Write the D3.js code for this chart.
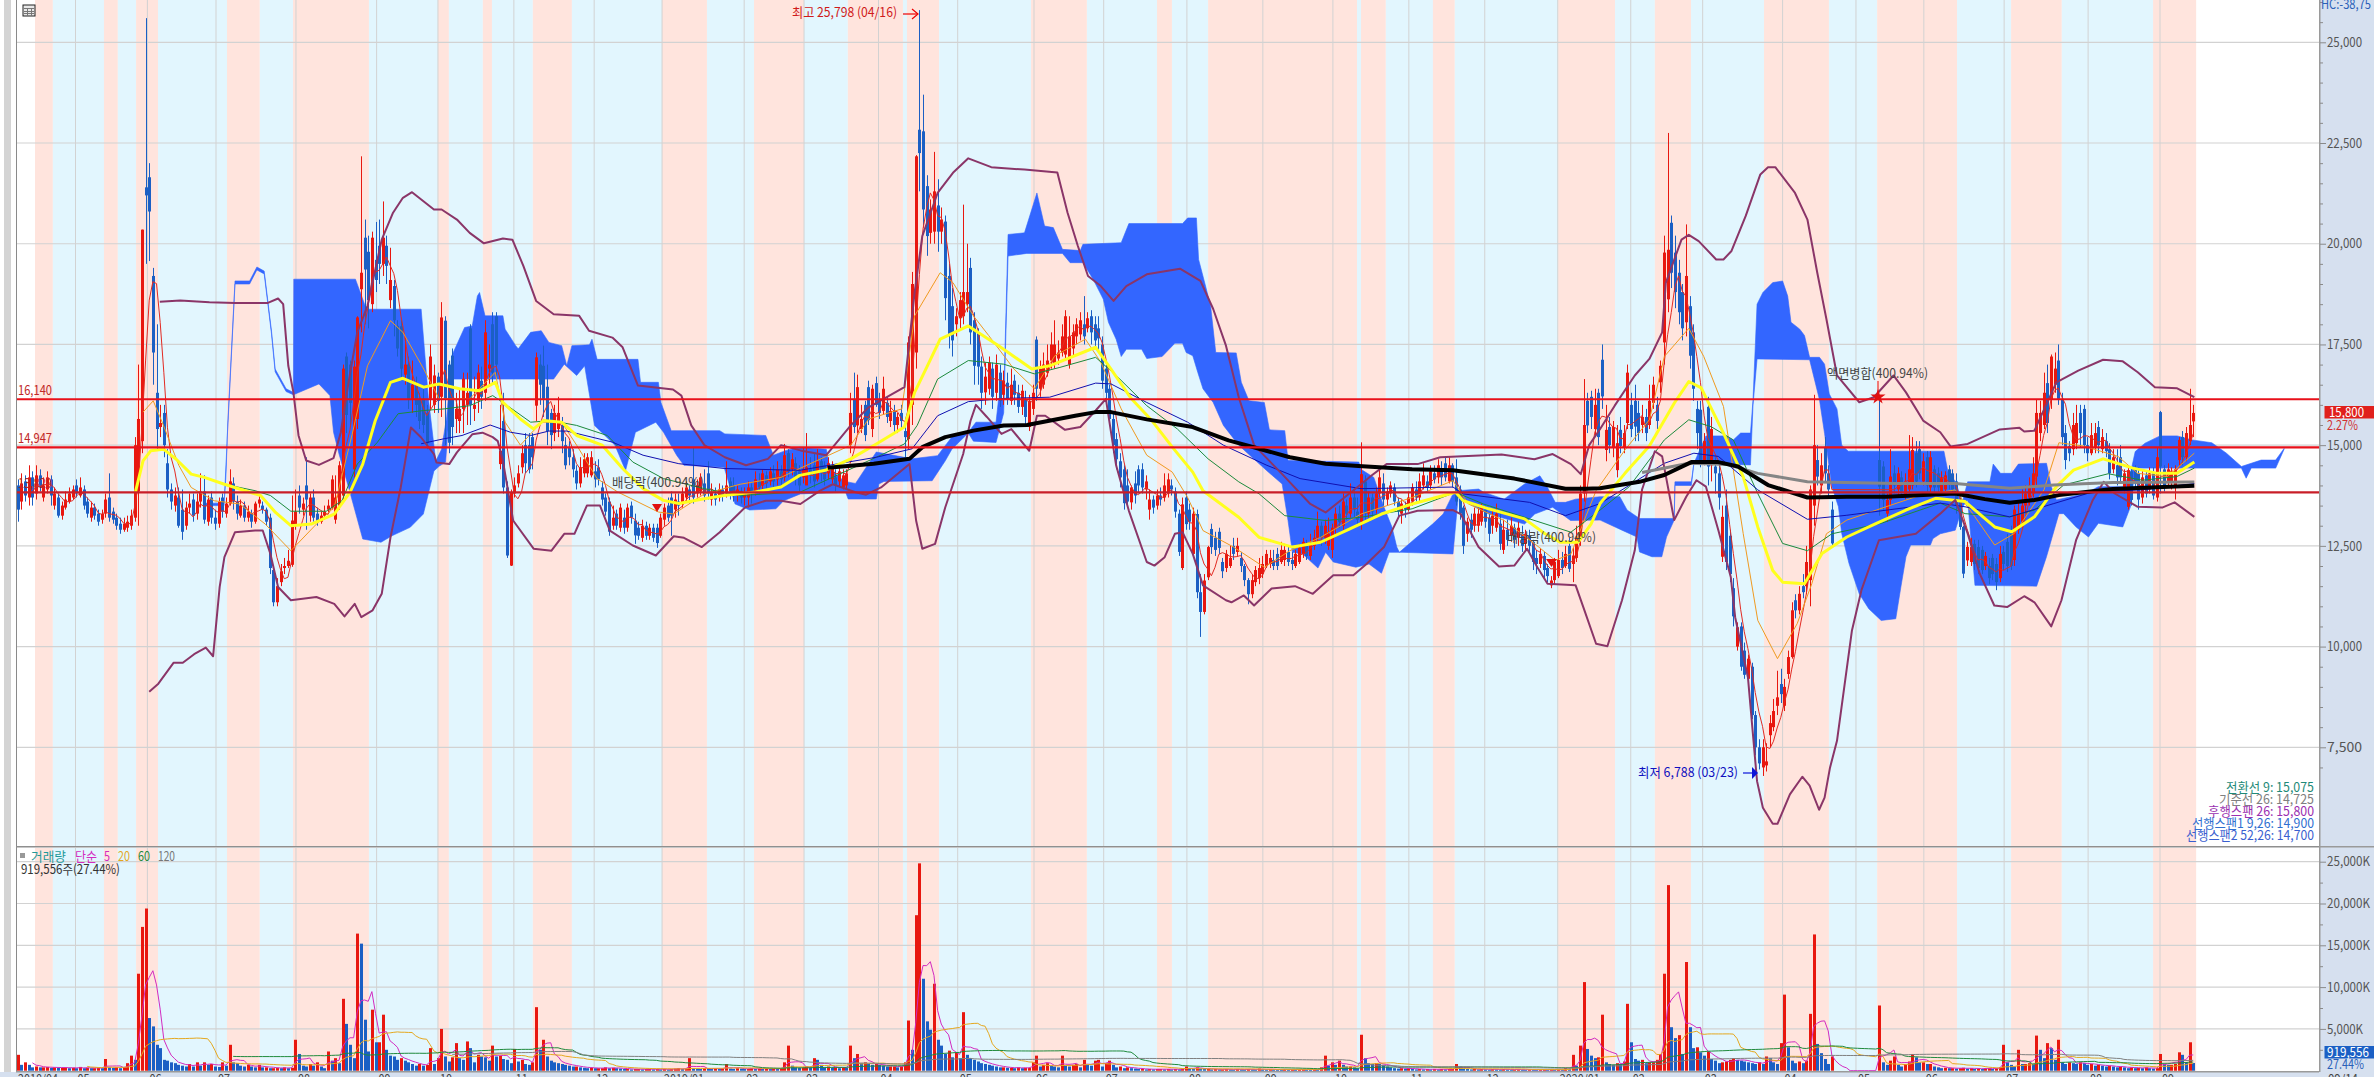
<!DOCTYPE html>
<html><head><meta charset="utf-8">
<style>html,body{margin:0;padding:0;background:#fff;overflow:hidden}svg{display:block}</style>
<script src="https://cdn.jsdelivr.net/npm/d3@7/dist/d3.min.js"></script></head><body><svg id="c" width="2374" height="1077"></svg>
<script>
// Alternating market-phase bands, as trading-day index edges (pink, blue, pink, ...)
const bandEdges=[5.2,10.1,24.1,27.9,32.9,38.9,57.8,66.8,75.9,96.7,115.6,118.6,127.9,130.4,141.6,152.3,177,189.3,202.2,215.9,227.9,243,244.1,252.9,278.1,293.4,312.6,316.7,326.6,367.4,368.5,375.3,388.2,394.2,422.5,438.1,449,458.9,478.9,496.7,509.9,531.8,546.6,560.5,585.5,597.3];
const monthIdx=[16.3,36,54.8,76.7,98.8,115.6,136.4,158.4,177,199.5,215.9,236.3,258,278.9,298,320.8,341.6,360.8,381.6,402.4,422.4,442.4,462.1,484,504.1,522.7,544.7,567.7,587.4];
const monthLabels=["05","06","07","08","09","10","11","12","2019/01","02","03","04","05","06","07","08","09","10","11","12","2020/01","02","03","04","05","06","07","08","09"];
const priceTicks=[25000,22500,20000,17500,15000,12500,10000,7500];
const volumeTicks=[25000,20000,15000,10000,5000];
const hLevels=[16140,14947,13829];

const opens=[
14000,13600,14100,13700,14200,13800,14250,13700,13900,14150,
13500,13700,13250,13450,13600,13700,14000,13750,13900,13600,
13200,13450,13300,13150,13300,13700,13350,13200,13050,12900,
12950,13000,13200,13850,15100,21400,21650,19200,16300,15450,
15800,14550,13900,13500,13700,13400,13000,13450,13650,13300,
13600,13850,13100,13700,13200,13050,13700,13300,13550,14050,
13600,13250,13500,13200,13300,13100,13550,13500,13400,13200,
11900,11100,11600,11950,12000,12030,13000,13750,13400,14000,
13250,13700,13300,13100,13250,13400,13450,13150,13500,13750,
17200,17000,14400,15650,18870,20150,19800,18500,19600,19950,
19500,19950,18600,18950,17960,17950,16750,17000,16150,16500,
16150,16150,15800,16150,16000,16700,16200,18090,17000,17220,
15650,15600,15900,16000,17900,15900,16100,16600,16300,16900,
18000,18200,14530,15600,13950,12010,13800,14050,14450,15000,
15000,15200,15980,17000,16970,16450,15800,15300,15400,15500,
15000,14950,14700,14365,14050,14300,14300,14250,14350,14450,
13950,13700,13600,13000,13300,12950,13200,12950,13500,13130,
12950,12700,13000,12750,12950,12950,12750,13150,13500,13700,
13400,13600,13550,13700,13900,14150,13800,13850,14050,14300,
13650,13800,13700,13900,13800,14100,14000,13750,13850,13700,
13700,13950,13850,14100,14000,14250,14100,14300,14150,14350,
14200,14800,14400,14550,14350,14200,14000,14400,14500,14150,
14600,14500,14300,14150,14200,14100,13950,14000,15000,16150,
15490,15400,16000,16440,15400,16540,16150,15850,16050,15600,
15850,15500,15800,15350,15150,16000,17300,22830,22790,21430,
20270,20300,20950,20300,20550,19200,18450,18000,18150,18200,
18500,19400,18100,17800,16950,16310,16400,16900,16300,16800,
16250,16550,16100,16600,16300,15950,16150,15450,15900,17620,
16400,16500,16800,17100,17000,17150,17300,17250,17000,17400,
17700,17750,18000,17900,18200,18000,17900,17500,16900,16400,
15650,15150,14600,14400,14000,13580,14050,14400,14400,13900,
13400,13650,13500,13750,13700,13800,14000,13850,13300,11950,
13700,13400,12300,13290,11350,10860,11720,12920,12700,12850,
12100,11950,12000,12500,12350,12200,12000,11650,11300,11600,
11700,11800,12000,12050,12150,12300,12100,12150,12350,12150,
12000,12100,12300,12500,12250,12500,12700,13000,12700,12500,
12400,12950,13300,13000,13500,13300,13700,13350,13100,14100,
13300,13700,13400,13800,14050,13650,13800,13950,13600,13300,
13500,13400,13600,13900,13700,14000,14100,14000,14300,14200,
14400,14550,14100,14500,14200,13900,13450,12800,13150,13000,
13000,13100,13400,13200,13000,12950,13050,12400,12900,12750,
12950,12700,12800,12550,12750,12600,12200,12050,12250,11950,
11520,11650,11750,12150,12000,12500,12050,12200,12650,13800,
16100,16200,15400,16300,17120,14880,15450,14950,14380,15380,
14950,15550,16000,16100,15800,15500,15700,15500,16050,16000,
16560,17550,18620,20520,19780,19280,18800,18050,18450,17800,
15900,15880,14600,15950,14500,14470,14300,12230,13500,12750,
11450,10000,10500,9900,9200,9500,8300,7500,7000,7050,
7800,8000,8530,9070,8530,9320,9740,11150,10900,11500,
11500,11650,13500,14630,14000,14960,14300,13400,null,null,
null,null,null,null,null,null,null,null,null,null,
14630,14470,13300,13640,14300,13900,14200,13760,13900,14000,
14800,14900,14100,14700,13950,14400,14300,13850,13900,14400,
14300,14100,13640,12970,12140,12100,12550,12470,12400,12000,
12000,12200,12050,11700,12350,12600,12800,12150,12900,13100,
13500,13700,13800,14220,15300,15500,16540,16130,16500,17100,
16150,15300,14980,14900,15050,15800,15900,15000,14800,14950,
15450,14900,15100,14900,14400,14500,14700,13900,13470,14350,
14400,14300,13700,14250,13900,14300,13700,15820,14400,14100,
14100,14000,14630,15200,14700,15100,15590];
const closes=[
13400,14050,13750,14200,13700,14250,13950,14000,14200,13750,
13800,13250,13500,13650,13800,13900,13800,13950,13500,13300,
13450,13250,13100,13300,13650,13200,13150,13000,12900,13050,
13100,13250,15000,15650,20350,21200,20800,17300,15400,15550,
15000,13900,13600,13750,13000,12850,13450,13550,13250,13600,
13850,13150,13650,13200,13050,13600,13350,13550,14100,13600,
13300,13500,13200,13350,13100,13550,13650,13400,13100,11950,
11100,11500,11870,12000,12130,13130,13350,13450,13550,13650,
13700,13200,13100,13250,13350,13500,14150,13700,14500,16900,
15750,16050,16950,18170,19280,19360,18600,20150,19100,19500,
20150,19450,19100,18100,17400,16900,17000,16150,16500,16000,
15600,15500,15050,17200,16730,16100,18170,16150,15060,15450,
15900,15900,16650,16300,16000,16000,16800,16200,17800,17000,
16800,17000,14860,13950,12260,13830,14000,14300,14800,14550,
14400,14700,17180,16500,16150,15350,15250,15800,15800,15100,
14500,14700,14400,14050,14450,14650,14700,14700,14150,14150,
13650,13350,12850,13200,13000,13450,12950,13450,13200,12760,
12750,13000,12750,12950,12700,12570,13200,13450,13200,13250,
13650,13500,13800,13950,13750,13700,14000,14200,13750,13800,
13850,13650,13900,13750,14000,13850,13800,13900,13700,13800,
13950,13800,14150,13950,14300,14050,14350,14100,14400,14150,
14750,14350,14650,14200,14000,14400,14450,14250,14100,14600,
14300,14150,14550,14450,14000,14350,14250,14300,15800,15450,
16440,15650,15250,15620,16400,16000,15800,16400,15700,15850,
15500,15700,15600,15200,17550,19000,22170,22250,20850,20190,
20850,21300,20300,20600,18650,17750,17600,18200,18600,18800,
18800,17800,16970,16950,16300,16700,17050,16200,17000,16100,
16600,16150,16500,16250,15950,16350,15700,16100,16300,16400,
16900,17000,17100,17500,17500,17300,17700,18200,17700,17800,
18000,18100,17700,18150,17800,17600,17650,16600,16300,15650,
15000,14650,14200,13560,13600,13950,13750,14000,13950,14100,
13650,13450,13750,13650,14000,14150,13900,13350,12350,13530,
13040,13100,13300,11350,10860,11640,12470,12470,12400,12450,
11870,12300,12200,12300,12500,12000,11650,11300,11650,11900,
11950,12050,12300,12200,12000,12000,12400,12400,12100,12050,
12300,12450,12600,12250,12550,12700,13000,12700,13000,12800,
12950,13300,13100,13600,13300,13700,13400,13150,14280,13300,
13700,13350,13800,14200,13650,13850,14000,13600,13350,13550,
13400,13700,13950,13700,14100,14250,13950,14350,14150,14500,
14200,14200,14500,14100,13600,13300,12500,13100,12900,13300,
13300,13450,13100,12800,13250,13300,12550,12900,12650,13000,
12650,12950,12500,12800,12500,12100,12050,12300,11900,11750,
11640,12100,12150,11950,12300,11930,12260,12700,13800,15500,
15490,15700,16000,15200,16210,15380,15000,15450,15050,14980,
15300,16800,15400,15460,15300,15700,15300,16100,16500,15600,
16970,19780,19850,19280,18800,18300,17900,19200,17220,16400,
15300,14630,15100,14470,15400,14300,13700,13220,12100,11800,
10750,10480,9500,9300,9700,8300,7500,7100,7500,7150,
8100,8400,8740,8820,9000,9740,10900,10900,11310,11350,
12100,13900,15000,14220,14500,14300,13900,12560,null,null,
null,null,null,null,null,null,null,null,null,null,
13970,13640,13640,14220,14000,14300,13850,14100,14400,14880,
14100,14300,14600,14000,14700,13950,13950,14200,14250,14050,
13900,13500,12970,11810,12475,12470,12050,11950,11900,12250,
11700,11800,11600,12300,12050,12000,12000,13400,13300,13500,
13800,14000,14300,15800,15800,16300,15550,17200,16900,16150,
15200,14630,14800,15500,15550,15300,15000,14800,15250,15300,
15000,15200,14850,14300,14700,14200,14200,14300,14380,13640,
14050,13650,14200,13800,14300,13750,14700,14470,14000,14400,
14300,14400,15130,14700,15300,15500,15800];
const highs=[
14150,14300,14250,14500,14350,14500,14400,14200,14350,14250,
13950,13800,13600,13850,13950,14000,14150,14200,14000,13700,
13600,13550,13400,13400,13800,14300,13450,13300,13200,13200,
13250,13400,15200,17000,20350,25600,22000,19400,18000,16000,
16000,14900,14050,13950,13950,13900,13600,13800,13800,13800,
14300,14250,13750,13850,13400,13700,13800,13700,14400,14200,
13750,13650,13600,13500,13400,13600,13750,13600,13450,13300,
12000,11700,12050,12200,12400,13750,13900,14000,13700,14700,
13800,13900,13450,13350,13500,13650,14250,14250,14600,17000,
17300,17100,17100,18200,22170,20600,20200,20300,20540,20600,
21050,20200,19900,19100,18100,18100,17700,17200,17100,16700,
16300,16400,16000,17500,17000,16800,18550,18200,17100,17400,
16300,16400,16800,16800,18000,16700,17000,16950,18100,17500,
18300,18300,16000,16300,14100,13900,14200,14500,15000,15300,
15300,15300,17300,17250,17470,17000,15900,16000,16200,15700,
15200,15100,14900,14500,14700,14800,14800,14850,14600,14650,
14100,13800,13700,13500,13400,13550,13400,13550,13600,13300,
13100,13150,13100,13050,13050,13050,13300,13550,13700,13850,
13800,13800,13950,14100,14000,14950,14150,14300,14400,14600,
14050,13950,14050,14000,14600,14200,14200,14000,13950,13950,
14100,14050,14350,14300,14400,14350,14450,14500,14600,14500,
15030,14900,14800,14700,14500,14950,15300,14700,14800,14900,
14700,14600,14700,14600,14400,14450,14400,14400,16300,16800,
16750,16000,16100,16600,16500,16700,16300,16700,16200,16100,
16000,15800,16000,15650,17700,19300,22200,25798,23700,21700,
21100,22280,21600,20900,20700,19500,18900,18400,18800,20970,
20000,19650,18300,17900,17200,17050,17200,17050,17250,17000,
16850,16800,16900,16750,16500,16500,16350,16250,16500,17700,
17100,17300,17500,17800,18100,17600,18000,18350,18200,18000,
18150,18300,18700,18300,18350,18200,18200,17700,17000,16500,
15800,15300,14800,14500,14400,14000,14350,14500,14550,14250,
13900,13750,13900,13950,14300,14300,14150,13950,13400,13700,
13850,13550,13450,13400,11800,11800,12500,13050,12850,12950,
12200,12400,12500,12700,12700,12350,12050,11700,11800,12000,
12200,12250,12400,12400,12400,12450,12600,12550,12500,12350,
12400,12550,12700,12650,12800,12900,13350,13100,13150,13200,
13050,13450,13500,13800,13650,14050,13900,13700,15070,14250,
13850,13800,13950,14450,14300,13950,14100,14050,13700,13650,
13600,13850,14050,14100,14300,14550,14250,14500,14500,14650,
14600,14700,14700,14550,14650,14000,13500,13200,13300,13450,
13450,13550,13500,13300,13400,13550,13300,13150,13150,13200,
13050,13100,13000,12900,12900,12650,12400,12450,12350,12050,
11750,12200,12400,12350,12500,12700,12450,13000,14000,16640,
16300,16350,16400,16400,17500,16000,15700,15600,15500,15700,
15500,17000,16300,16500,16100,16000,15900,16500,16700,16200,
17100,20200,22750,20700,20200,19600,19000,20480,18700,18000,
16100,16100,15300,16200,15700,14700,14500,13500,13900,12900,
11700,10600,10600,10100,9800,9600,8400,7700,7700,7600,
8300,8700,9400,9450,9200,9900,11100,11300,11500,11800,
12500,14000,16250,15000,14800,15200,14500,13600,null,null,
null,null,null,null,null,null,null,null,null,null,
16100,14600,13800,14900,14500,14450,14350,14300,15250,15200,
15100,15100,14800,14850,14850,14500,14450,14350,14350,14500,
14400,14300,13800,13000,12600,12700,12650,12650,12500,12350,
12200,12300,12200,12500,12500,12800,13000,13500,13600,13900,
14000,14200,14700,16130,16100,16800,17000,17250,17300,17500,
16300,15500,15100,15800,16000,16000,16000,15200,15550,15550,
15600,15400,15300,15050,14900,14900,15000,14400,14500,14450,
14500,14450,14400,14350,14450,14450,14950,15850,14500,14550,
14450,14500,15200,15350,15450,16400,16000];
const lows=[
13100,13400,13600,13500,13500,13650,13850,13600,13800,13500,
13400,13200,13150,13400,13550,13650,13700,13700,13400,13200,
13100,13150,13000,13050,13200,13100,13050,12900,12800,12850,
12850,12900,13100,13000,14800,19500,19570,16500,14900,15200,
14700,13700,13400,13350,12950,12650,12900,13300,13100,13150,
13450,13050,13000,13050,12900,12950,13200,13200,13500,13400,
13150,13200,13100,13100,12950,13050,13450,13300,13000,11800,
11000,11000,11500,11800,11950,11980,12900,13300,13250,12900,
13100,13100,13000,13050,13150,13300,13400,13050,13400,13600,
15300,15500,14200,15400,17800,18000,17900,18300,18800,19000,
19200,19000,18400,17700,17200,16600,16500,15900,15800,15700,
15400,15300,14900,15900,15800,15800,15700,15000,14800,15000,
15300,15300,15300,15500,15500,15600,15800,15900,16100,16500,
16500,16700,14400,13800,12200,12000,13700,13950,14300,14300,
14300,14400,15600,16000,15700,15000,14900,15100,15200,14800,
14400,14500,14200,13900,13950,14200,14200,14200,13950,14000,
13500,13250,12750,12900,12900,12850,12800,12850,13050,12550,
12650,12600,12650,12650,12600,12450,12700,13000,13100,12750,
13200,13250,13450,13600,13550,13550,13700,13750,13600,13650,
13500,13500,13600,13600,13700,13650,13600,13600,13550,13500,
13450,13550,13750,13800,13850,13900,14000,13950,14000,14000,
14100,14200,14250,14000,13850,14050,14200,14050,13950,14100,
14100,14000,14150,14050,13850,13950,13900,13900,14800,15300,
15300,15300,15100,15500,15200,15950,15650,15750,15550,15450,
15300,15300,15400,14700,14900,15500,16900,21300,20400,19700,
20000,20000,19800,20000,18100,17400,17200,17700,17900,18000,
18300,17500,16500,16500,15900,16000,16250,15900,16100,15950,
16000,16000,16000,16000,15800,15750,15500,15350,15750,16100,
16200,16400,16700,16900,16900,17000,17200,17100,16900,17200,
17500,17600,17500,17800,17500,17400,17300,16400,16050,15500,
14800,14400,13950,13400,13450,13400,13550,13800,13800,13650,
13150,13300,13400,13500,13600,13700,13750,13200,12250,11900,
12900,12900,12200,11200,10240,10800,11650,12300,12250,12300,
11700,11850,11950,12150,12250,11850,11500,11050,11200,11500,
11550,11700,11950,11950,11900,11900,12050,12000,12000,11900,
11950,12050,12200,12150,12150,12400,12600,12500,12550,12400,
12200,12800,12950,12900,13150,13200,13200,13000,12900,13150,
13200,13200,13300,13700,13500,13500,13700,13500,13200,13050,
13200,13350,13500,13600,13600,13900,13850,13900,14050,14050,
14000,14100,14050,13950,13500,13150,12300,12600,12700,12850,
12850,13000,12950,12600,12800,12850,12400,12300,12500,12600,
12450,12500,12350,12350,12300,11900,11800,11950,11700,11600,
11450,11550,11700,11800,11950,11850,11600,12100,12500,13600,
15300,15400,15200,15000,15900,14600,14800,14700,14200,14800,
14800,15400,15200,15100,15100,15300,15100,15400,15900,15400,
16300,17000,18300,18900,18400,18000,17600,17700,16900,16100,
14900,14450,14500,14000,14100,13800,13400,12100,11900,11600,
10500,9900,9400,9200,9100,8200,7300,6950,6788,6900,
7500,7900,8300,8600,8400,9200,9700,10700,10800,11200,
11300,11000,13000,14000,13800,14100,13700,12500,null,null,
null,null,null,null,null,null,null,null,null,null,
13250,13400,13100,13500,13800,13750,13700,13650,13800,13900,
13950,14150,14000,13850,13800,13750,13800,13750,13750,13900,
13800,13300,12900,11700,12000,12000,11900,11800,11800,11900,
11550,11650,11400,11600,11900,11850,11900,12000,12800,12950,
13300,13500,13700,14000,15100,15400,15300,15900,16300,16000,
15000,14400,14600,14750,14900,14950,14800,14600,14750,14800,
14800,14800,14700,14150,14300,14000,14050,13800,13400,13500,
13950,13400,13550,13700,13800,13650,13600,13800,13850,14000,
13900,13650,14500,14500,14600,15000,15200];
const volumes=[
1900,700,1000,700,400,500,400,400,450,350,
400,350,350,400,300,350,300,450,300,350,
300,300,350,300,1400,400,350,400,300,450,
900,1800,1300,11600,17200,19400,6300,5300,3100,2700,
1300,1200,1000,900,700,600,500,800,500,1000,
600,1000,700,800,500,450,1000,600,3100,1000,
900,600,500,700,500,400,700,400,400,300,
300,350,300,400,300,350,3700,2000,600,500,
800,600,1000,500,300,2300,1200,1500,900,8600,
5600,3100,1500,16400,15200,6100,2300,7300,3400,3400,
6700,2500,1800,1700,1300,1500,1200,1000,800,600,
800,600,700,2700,800,1500,5000,1700,1100,1600,
3300,1500,1300,3500,2700,1000,1900,1700,1600,1200,
3000,1700,1800,1400,1300,900,2600,1100,1300,800,
700,1000,7600,2500,3700,1700,1200,1000,900,800,
700,600,500,500,400,350,300,350,300,300,
300,400,300,350,300,250,200,200,150,200,
200,150,200,200,150,200,150,200,150,200,
250,300,200,250,1500,300,250,200,300,250,
200,300,200,250,800,250,200,300,250,200,
200,300,200,250,200,300,200,250,200,300,
1000,3000,600,400,350,400,500,400,1500,1300,
700,400,500,350,400,300,400,350,3000,1500,
2000,900,1000,800,700,800,700,600,500,500,
500,400,500,1000,6000,2500,18600,24800,11000,5900,
4900,10400,3700,3000,2000,2400,1600,2200,1500,7000,
1900,1500,1300,1100,900,800,700,600,500,400,
400,350,350,300,400,300,350,350,1000,1800,
500,700,900,600,500,400,1800,600,500,700,
800,400,1300,700,600,1200,1300,500,900,1200,
700,400,500,300,400,300,250,200,200,150,
200,150,200,200,150,200,150,200,150,250,
500,300,200,400,250,200,200,150,200,150,
150,200,150,120,200,150,120,200,150,120,
250,150,120,200,150,120,100,200,120,150,
120,150,200,120,100,150,120,400,1800,600,
1000,700,1200,700,500,500,400,300,4300,1500,
900,800,900,800,700,500,400,300,250,300,
250,300,200,150,200,150,200,150,200,150,
200,150,200,200,800,500,250,200,150,200,
150,200,150,120,200,150,120,200,150,120,
120,150,120,100,150,120,100,120,150,100,
120,100,150,120,300,200,1900,600,3000,10600,
2600,1800,1500,1600,6700,1000,800,700,900,800,
1100,8000,3400,1400,1200,1300,900,1000,1000,1300,
2000,11600,22200,5200,3900,4250,2000,13000,5200,2700,
2800,2200,1800,2300,1400,1200,900,1000,1100,1300,
1500,1300,1200,1100,1000,900,800,1000,800,1700,
1500,1000,800,3300,9100,2800,1200,900,1100,900,
1200,6800,16300,3200,2100,1400,800,1700,0,0,
0,0,0,0,0,0,0,0,0,0,
7800,1000,700,1200,1700,700,500,800,1100,2000,
1600,1000,1000,800,800,500,400,300,350,300,
300,250,300,350,250,300,200,250,200,300,
300,200,300,400,3100,1000,700,500,2500,800,
800,900,800,4200,2500,1500,3300,2700,1300,3700,
1000,800,1000,900,800,1000,900,700,800,600,
700,600,500,600,500,400,500,400,300,400,
300,350,300,400,300,250,300,2000,800,700,
700,800,2200,1900,1000,3400,920];

const bbUpper=[[39.4,18557],[45,18590],[53,18550],[60,18530],[69,18530],[71.8,18640],[73.2,18500],[74.6,16970],[76,16310],[77.4,15240],[79.5,14620],[83,14510],[87,14680],[89,15320],[91,16500],[93.5,17800],[96.3,18460],[100.2,20100],[103.3,20770],[106,21140],[108.5,21280],[114.5,20850],[116.6,20850],[120.8,20600],[124.3,20270],[128.2,20010],[133.4,20130],[136,20100],[139,19450],[142.5,18580],[147.3,18250],[154.3,18210],[157,17840],[163.4,17670],[166.2,17430],[170.4,16480],[180,16380],[182.3,16230],[185,15490],[188.6,15000],[194.2,14700],[200,14500],[206,14660],[209.6,15000],[214.9,14870],[222,14750],[228.7,15490],[233.6,15940],[243.4,16440],[246.2,18790],[248.3,20190],[252.5,21260],[256.7,21760],[260.9,22120],[267.2,21900],[276.3,21840],[285.3,21770],[288.1,20770],[290.9,19950],[293.7,19200],[297.2,18950],[300.7,18580],[304.2,18950],[309.8,19240],[318.9,19380],[324.5,19080],[328,18380],[331.5,17470],[335,16190],[339.2,15000],[346.9,14280],[354.6,13540],[358.8,13330],[368.5,14030],[371.3,14240],[375.5,14530],[384,14530],[390.2,14700],[407,14770],[416,14650],[421,14780],[426,14530],[428.7,14280],[431,15000],[434,15400],[438,15980],[443.5,16730],[447.5,17140],[451,17800],[452,19030],[456.3,20100],[458.3,20220],[461,20065],[465.8,19610],[467.8,19610],[470,19820],[473.9,20690],[477.9,21720],[480,21900],[482,21900],[487.4,21260],[490.8,20600],[493.5,19280],[496,18130],[498.9,16730],[505,16065],[509,16190],[514.4,16730],[517.8,16310],[522.5,15610],[527.2,15320],[530,14970],[534.7,15030],[543.5,15390],[548.9,15430],[550.2,15340],[553,15360],[559,16560],[565,16850],[571.8,17120],[577.2,17080],[581.3,16810],[586,16440],[592.1,16410],[596.8,16190]];
const bbLower=[[36.5,8880],[39,9080],[43.2,9600],[45.7,9600],[48.8,9810],[52,9975],[54,9760],[55.8,11480],[57.1,12220],[60,12840],[65.5,12880],[67.6,12880],[69.7,12300],[71.8,11480],[75.3,11150],[82.3,11230],[87.2,11060],[90,10750],[92.8,11060],[94.6,10730],[97.7,10900],[100.2,11310],[102.6,12710],[105.4,13950],[108.2,15440],[111,15190],[114.5,14780],[115.2,14570],[118.7,14530],[120.8,14820],[125,15270],[127.8,15310],[130.6,15200],[132,15100],[133.4,14610],[136.2,13130],[141.8,12430],[146.7,12380],[150.2,12800],[153,12800],[156.4,13500],[160,13500],[162.7,12880],[169,12510],[175.3,12260],[180.2,12740],[183,12700],[187.9,12470],[192.8,12840],[199.8,13460],[205.4,13620],[209.6,13620],[214.9,13540],[220.3,13870],[223.8,14030],[230,13830],[232.9,13770],[237,13950],[244.8,14530],[246.6,13130],[248.3,12430],[251.8,12550],[254.6,13460],[259.5,14780],[261.5,15600],[263,16000],[266,15700],[270,15280],[272.7,15400],[277.6,14860],[279.7,15730],[282,15730],[287.4,15380],[291.6,15450],[295.8,15860],[298.6,16150],[301.4,14500],[304.9,13370],[309.8,12100],[311.9,12010],[314.7,12220],[317.5,12800],[319.6,12840],[322.4,12300],[325.2,11520],[331.5,11150],[333,11100],[336.4,11270],[339.2,11020],[344,11440],[350.4,11500],[355.3,11310],[360.9,11770],[366.4,11770],[370,12050],[374.8,12470],[377,12880],[379,13250],[384,13370],[393.7,13390],[395.8,13290],[400.7,12470],[406.3,11990],[410.5,12010],[414,12430],[416.8,11970],[419.6,11560],[427.3,11520],[429.4,10980],[432.9,10070],[436,10010],[440,11150],[443.5,12390],[445.5,13900],[449,14850],[451,14720],[454.3,13140],[457.6,13720],[460.4,14130],[463,13970],[466.4,12890],[469.8,11730],[471,10730],[474.5,9240],[477,6660],[478.6,6000],[481.3,5600],[482.6,5600],[486,6330],[489.4,6770],[491.4,6550],[494,5950],[495.5,6250],[497,7000],[498.9,7660],[503,10400],[505.6,11400],[510.4,12640],[520.5,12800],[527.2,13300],[531.3,13640],[534.7,12810],[538,11810],[542,11020],[545.5,10980],[550.2,11250],[553,11100],[557.6,10500],[560.4,11150],[564.4,12640],[569,13640],[572,14090],[575,13800],[581.3,13470],[588,13450],[591.4,13580],[596.8,13220]];
const ma20=[[32.7,13830],[34.8,14610],[36.9,14860],[40.4,14900],[43.9,14650],[48,14280],[51.6,14200],[57.1,14030],[67,13750],[71.1,13330],[75.3,13000],[80.9,13040],[87.2,13290],[91.5,13830],[95,14530],[98.4,15600],[102.6,16560],[106,16660],[111.7,16440],[115.9,16520],[121.5,16400],[127,16350],[131.3,16560],[133.4,16060],[138.2,15650],[141.8,15400],[144.5,15610],[149.5,15570],[153.6,15240],[160.6,15000],[166.2,14420],[171.8,13920],[177.4,13630],[181.6,13550],[188.6,13670],[194,13750],[202.6,13840],[209.6,13960],[214.7,14250],[221.7,14375],[228.7,14660],[235.7,15030],[243.4,15450],[246.2,16310],[249.7,16970],[253.2,17630],[260.9,17960],[269.2,17470],[278.3,16890],[283.2,16970],[295.8,17430],[300,16890],[305.6,16150],[311.2,15610],[316.8,14950],[322.4,14330],[325.2,13870],[335,13210],[340.6,12710],[349.7,12470],[357.4,12590],[364.4,12880],[374.1,13290],[382.5,13540],[394.4,13830],[396.5,13620],[403.5,13420],[413.3,13170],[418.9,12800],[423.1,12590],[428,12590],[431.5,13040],[434,13550],[440.8,14300],[447.5,14980],[454.3,16040],[458.3,16580],[461.7,16420],[467.8,15300],[473.2,14220],[477.2,12970],[481.3,11890],[484,11600],[490,11560],[494.8,12310],[501.6,12720],[509.7,13060],[517.8,13390],[525.9,13680],[534,13600],[542.1,12970],[546.8,12850],[553,13220],[559,13970],[563.7,14380],[571.8,14660],[580,14430],[586.7,14300],[592,14300],[596.8,14580]];
const ma10=[[34.8,15820],[37.6,16100],[40.4,15490],[44.6,14500],[48,13950],[54.3,13620],[61.3,13540],[68.3,13040],[75.3,12380],[82.3,13040],[87.2,13460],[92.1,15270],[96.3,16970],[102.6,18090],[106,17800],[111.7,16890],[115.9,16150],[124.3,16150],[131.3,16810],[134,15570],[138.2,15000],[143.9,15570],[149.5,15570],[153.6,15000],[159.2,14170],[164.8,13840],[176,13340],[180.2,13290],[188.6,13790],[198.4,14030],[209.6,14200],[214.7,14420],[228.7,15000],[233.6,15650],[242.7,15900],[246.2,18210],[253.2,19280],[256.7,19035],[262.3,18210],[266.5,17720],[273.4,16890],[279,16400],[284.6,17220],[293,17630],[297.2,17060],[302.8,15900],[309.8,14750],[316.8,14330],[321,13700],[325.2,12880],[333.6,12470],[342,11970],[349,12380],[357.4,12710],[368.5,13290],[382.5,13700],[393.7,14120],[397.9,13540],[407.7,13130],[416.1,12550],[421.7,12140],[426,12300],[432.9,13870],[440.8,14880],[447.5,15630],[451.6,17200],[458.3,17900],[462.4,17200],[467.8,15960],[473.2,12810],[477.2,10650],[482.6,9700],[488,10570],[492,11560],[496,12800],[501.6,13140],[509.7,13390],[520.5,13720],[531.3,13890],[536.7,13220],[542.1,12520],[547.5,12810],[555.6,13890],[559.7,15060],[566.4,14980],[575.9,14720],[581.3,14300],[589.4,14220],[596.8,14800]];
const ma60=[[57,14030],[65.5,13870],[69.7,13750],[75.3,13360],[85,13360],[89.3,13620],[93.5,14530],[99,15070],[104.7,15780],[111.7,15860],[117.3,15900],[124.3,15980],[130.6,16230],[133.4,16060],[141,15570],[146.6,15610],[153.6,15490],[162,15240],[169,14580],[177.4,14170],[188.6,13920],[198.4,13750],[215,13840],[235.7,14700],[243.4,15030],[246.9,15490],[252.5,16640],[260.9,17100],[270.6,17010],[279,16770],[286,16930],[295.8,17180],[301.4,16730],[309.8,15980],[318.2,15400],[326.6,14660],[335,14090],[340.6,13790],[347.6,13250],[358.8,13130],[368.5,13210],[382.5,13420],[394.4,13830],[402,13540],[413.3,13210],[426,12840],[434,13390],[442,13970],[451.6,15130],[458.3,15630],[464.4,15460],[470.5,15130],[477.2,13800],[484,12560],[490.8,12380],[497.5,12800],[511,13060],[527.2,13560],[534,13300],[546.2,13220],[553,13390],[561,14010],[573.2,14290],[582.6,14130],[592,14220],[596.8,14430]];
const ma120=[[111,15035],[117.3,15160],[122.2,15240],[129.9,15500],[135.5,15320],[141,15240],[146,15350],[150.9,15350],[163.4,15075],[171.8,14750],[181.6,14540],[194.2,14420],[214.7,14375],[235.7,14700],[245.5,14910],[252.5,15730],[260.9,16080],[270.6,16160],[283.2,16190],[295.8,16540],[300,16520],[309.8,16060],[321,15570],[330.8,15000],[342.7,14500],[351.8,14170],[368.5,13920],[393.7,13960],[396.5,13790],[414.7,13580],[424.5,13250],[434,13550],[451.6,14550],[459.7,14800],[466.4,14720],[477.2,13890],[490.8,13160],[501.6,13260],[527.2,13560],[534,13470],[546.2,13220],[558.3,13550],[569,13840],[582.6,13890],[596.8,14050]];
const ma240=[[222.4,14440],[235,14540],[244.8,14660],[248.3,14950],[254.6,15200],[262.3,15360],[270.6,15490],[277,15500],[290.2,15730],[295.8,15820],[300,15820],[309.8,15640],[322.4,15450],[332.2,15120],[340.6,14910],[349,14700],[358.8,14540],[367.8,14480],[382.5,14400],[393.7,14375],[410.5,14170],[424.5,13920],[430,13920],[434,13930],[444.8,14090],[451.6,14260],[459,14580],[466.4,14580],[471.8,14470],[480,14010],[490.8,13700],[501.6,13720],[512.4,13720],[531.3,13800],[539.4,13660],[546.2,13570],[553,13640],[559.7,13760],[574.5,13910],[596.8,13990]];
const baseLine=[[445.5,14320],[458.3,14550],[469,14520],[477.2,14300],[490.8,14090],[515,14050],[531.3,14050],[546.2,13930],[558.3,14010],[574.5,14070],[596.8,14085]];
const cloudUpper=[[52,13560],[57,13560],[57.5,14200],[58,15500],[60,19076],[64,19076],[66,19423],[68,19320],[70,17830],[71,16890],[74,16400],[76,16310],[76.1,19120],[93,19120],[96,18375],[111,18375],[113,16150],[115,14600],[116.6,14900],[118,15700],[119.4,17220],[122.9,17920],[125,17960],[126.4,18700],[127,18790],[128.5,18210],[133.4,18210],[134,17880],[136.9,17470],[137.6,17390],[141,17800],[143.9,17840],[146,17550],[149.5,17470],[150.9,16970],[152.3,17470],[157.1,17490],[157.8,17630],[159.2,17130],[170.4,17130],[171.1,16560],[176,16560],[176.7,16060],[179.5,15360],[192.8,15360],[194.2,15280],[205.4,15240],[207.5,14750],[211,14870],[214.7,14950],[222,14900],[223,14400],[227,14100],[230,14050],[235.7,14830],[245.5,14660],[252.5,14740],[256.7,15240],[260.9,15320],[263,15570],[268.5,15570],[269.2,16150],[270.6,16150],[271.8,20230],[276.3,20270],[279.7,21260],[281.8,20440],[284.2,20400],[286.7,19860],[291.6,19830],[292.3,19985],[302.8,20025],[304.9,20500],[319.6,20500],[321,20640],[323.4,20640],[324,19610],[325.9,18950],[327.3,18450],[328.7,17300],[334.3,17290],[335.7,16560],[337.8,16100],[342,16060],[343.4,15380],[347.6,15360],[348.5,14620],[367.9,14580],[368.5,14400],[372,14200],[374.8,13460],[377,12960],[378.3,12470],[379,12340],[383.2,12670],[388.1,13040],[391,13290],[393.7,13790],[395.1,13870],[400.7,13910],[402.1,13830],[407.7,13660],[413.3,14035],[417.5,14240],[419.6,13950],[421.7,13580],[424.5,13580],[427.3,13660],[434,13720],[439.4,13720],[441.4,13390],[444.8,13180],[454.3,13180],[454.5,14090],[459,14090],[459.7,14550],[463,15230],[468.5,15230],[470.5,15130],[472.5,15300],[475.2,15300],[475.9,16130],[477,18500],[478.6,18790],[481.3,19035],[484,19075],[485.4,18700],[486.3,18050],[488.7,17880],[490,17720],[491.4,17180],[494.1,17180],[495.5,17010],[496.8,16270],[498.9,15900],[500.2,15000],[502,14850],[528.2,14850],[529.3,14340],[531.3,14100],[533.3,13600],[534.7,14090],[540.8,14090],[541.7,14530],[543.7,14300],[546.8,14300],[548.6,14530],[556.3,14550],[557.6,13970],[559,13640],[567.1,13800],[570.5,13970],[577.2,13970],[579.3,14300],[580.6,14840],[583.3,15050],[587.4,15230],[592.1,15230],[596.2,15130],[601.6,15060],[605.6,14800],[609.7,14470],[615.1,14630],[619.1,14630],[621.4,14920]];
const cloudLower=[[52,13500],[57,13500],[58,15400],[60,19000],[64,19000],[66,19350],[68,19250],[70,17760],[71,16820],[74,16330],[76,16250],[83,16520],[86,16230],[87,15320],[88.5,14780],[91.5,13830],[95,12670],[100,12590],[103,12750],[108,12960],[111.6,13290],[114.5,14360],[116,14480],[117.7,14580],[119.4,16640],[147.3,16640],[150.2,17010],[153.6,16730],[155.8,16970],[158.5,15490],[164.1,15000],[167,14370],[169.7,15320],[175.3,15570],[177.4,15320],[181,14750],[183,14500],[194,14450],[197,13540],[201,13390],[208.2,13420],[210.3,13620],[214.9,13790],[227.3,13830],[228,13663],[235.7,13663],[236.4,14035],[237.8,14100],[251,14117],[254.6,14612],[256.4,14900],[260.9,15300],[262.3,15100],[268.5,15066],[270.6,15800],[271.8,19695],[276.9,19760],[286.7,19760],[288.8,19530],[292.3,19530],[295.1,19120],[297.9,18620],[299.3,18050],[301.4,17630],[302.8,17200],[304.2,17380],[308.4,17380],[309.8,17150],[314,17200],[317.5,17530],[319.6,17530],[320.6,17300],[322.4,17220],[323.8,16800],[325.2,16400],[328,16060],[330.8,15490],[335,15000],[342.7,14365],[346.9,14035],[348.5,13130],[349.7,12340],[352.5,12300],[356.7,11950],[358.8,12340],[360.9,12100],[367.1,11970],[370.7,12050],[374.1,11820],[376.2,12340],[379.7,12340],[393.7,12300],[395.1,13700],[400.7,13420],[403.5,13290],[413.3,13040],[416.1,13290],[421,13460],[425.9,13130],[434,13140],[440,12890],[444.1,12720],[444.8,12350],[448.2,12230],[450.9,12230],[452.2,12720],[454.3,13140],[454.5,14000],[459,14000],[459.7,14550],[475.2,14510],[475.9,16000],[477,17140],[491.4,17120],[494.1,16130],[495.5,15290],[497.5,13970],[499.3,13470],[500.2,12810],[502.2,12060],[505,11310],[507.6,10940],[511,10650],[515,10690],[516.4,11480],[517.8,12230],[519.1,12520],[524.5,12520],[525.2,12680],[527.2,12800],[531.3,12890],[533.3,13470],[534.7,13640],[536.7,11520],[553.6,11500],[556.3,12230],[559.7,13300],[561,13300],[564.4,12970],[567.8,12720],[570.5,13060],[577.2,12970],[579.3,13470],[580.6,14430],[609.7,14430],[611,14180],[612.4,14430],[619.1,14430],[621.4,14900]];
const ichimokuLegend=[["전환선 9: 15,075","#1f8a78"],["기준선 26: 14,725","#808080"],["후행스팬 26: 15,800","#9a2fb0"],["선행스팬1 9,26: 14,900","#2f6fd0"],["선행스팬2 52,26: 14,700","#3a5fd0"]];

const W=2374,H=1077,L=16,R=2319;
const FONT='"Noto Sans CJK KR","Noto Sans",sans-serif';
const x=d3.scaleLinear().domain([0,631]).range([L,R+0.15]);
const yP=d3.scaleLinear().domain([25000,7500]).range([42.3,747.3]);
const yV=d3.scaleLinear().domain([0,25000]).range([1070.7,861.7]);
const svg=d3.select("#c");
const defs=svg.append("defs");
defs.append("clipPath").attr("id","pc").append("rect").attr("x",L).attr("y",0).attr("width",R-L).attr("height",846);
defs.append("clipPath").attr("id","vc").append("rect").attr("x",L).attr("y",848).attr("width",R-L).attr("height",223);
svg.append("rect").attr("width",W).attr("height",H).attr("fill","#fff");
svg.append("rect").attr("x",4).attr("width",7).attr("height",H).attr("fill","#d4d4d4");
const P=svg.append("g").attr("clip-path","url(#pc)"), V=svg.append("g").attr("clip-path","url(#vc)");
[[P,0,846],[V,848,1071]].forEach(([g,a,b])=>{
  d3.pairs(bandEdges).forEach((p,k)=>{
    g.append("rect").attr("x",x(p[0])).attr("width",x(p[1])-x(p[0])).attr("y",a).attr("height",b-a)
      .attr("fill",k%2==0?"#ffe4dd":"#e2f6fe");
  });
  monthIdx.forEach(m=>g.append("line").attr("x1",x(m)).attr("x2",x(m)).attr("y1",a).attr("y2",b).attr("stroke","#d2d2d2").attr("stroke-width",1));
});
priceTicks.forEach(t=>P.append("line").attr("x1",L).attr("x2",R).attr("y1",yP(t)).attr("y2",yP(t)).attr("stroke","#d2d2d2").attr("stroke-width",1.2));
volumeTicks.forEach(t=>V.append("line").attr("x1",L).attr("x2",R).attr("y1",yV(t)).attr("y2",yV(t)).attr("stroke","#d2d2d2").attr("stroke-width",1.2));

const lineP=d3.line().x(d=>x(d[0])).y(d=>yP(d[1]));
P.append("path").attr("d",lineP(cloudUpper.concat(cloudLower.slice().reverse()))+"Z").attr("fill","#3366ff").attr("stroke","#3366ff").attr("stroke-width",0.6);

const UP="#e8170f",DN="#1b5fc4";
const cg=P.append("g");
closes.forEach((c,k)=>{
  if(c==null)return;
  const px=Math.round(x(k+0.5))+0.5,col=c>=opens[k]?UP:DN;
  cg.append("line").attr("x1",px).attr("x2",px).attr("y1",yP(highs[k])).attr("y2",yP(lows[k])).attr("stroke",col).attr("stroke-width",1);
  const t=yP(Math.max(c,opens[k])),b=yP(Math.min(c,opens[k]));
  cg.append("rect").attr("x",px-1.5).attr("width",3).attr("y",t).attr("height",Math.max(1.5,b-t)).attr("fill",col);
});
// 5-day average of the read closes
const rolling=(arr,n)=>{const out=[];for(let k=n-1;k<arr.length;k++){const w=arr.slice(k-n+1,k+1).filter(v=>v!=null);if(w.length==n)out.push([k+0.5,d3.mean(w)]);}return out;};
const stroke=(g,gen,data,col,w)=>g.append("path").attr("d",gen(data)).attr("fill","none").attr("stroke",col).attr("stroke-width",w).attr("stroke-linejoin","round");
stroke(P,lineP,rolling(closes,5),"#e22a22",1);
stroke(P,lineP,ma10,"#f09a20",1);
stroke(P,lineP,ma60,"#1c8a3c",1);
stroke(P,lineP,ma120,"#1010b0",1);
stroke(P,lineP,ma20,"#ffff1e",3);
stroke(P,lineP,bbUpper,"#8a3568",2);
stroke(P,lineP,bbLower,"#8a3568",2);
stroke(P,lineP,baseLine,"#858585",3);
stroke(P,lineP,ma240,"#000",4);
hLevels.forEach((h,k)=>{P.append("line").attr("x1",L).attr("x2",R).attr("y1",yP(h)).attr("y2",yP(h)).attr("stroke",k==2?"#c81e28":"#e8101a").attr("stroke-width",2.2);});

// Volume panel
volumes.forEach((v,k)=>{
  if(!v)return;
  const col=(k==0||v>=volumes[k-1])?"#e8170f":"#1b5fc4";
  V.append("rect").attr("x",Math.round(x(k+0.5))-1).attr("width",3).attr("y",yV(v)).attr("height",yV(0)-yV(v)).attr("fill",col);
});
const lineV=d3.line().x(d=>x(d[0])).y(d=>yV(d[1]));
[[5,"#d22bc0"],[20,"#e5a81f"],[60,"#1f8a3c"],[120,"#808080"]].forEach(([n,col])=>stroke(V,lineV,rolling(volumes,n),col,1));

// Frames
svg.append("rect").attr("x",L).attr("y",0).attr("width",1).attr("height",1072).attr("fill","#8a8a8a");
svg.append("rect").attr("x",L).attr("y",846).attr("width",R-L).attr("height",1.5).attr("fill","#8f8f8f");
svg.append("rect").attr("x",0).attr("y",1072).attr("width",W).attr("height",5).attr("fill","#d6e0ef");
svg.append("rect").attr("x",L).attr("y",1071).attr("width",W-L).attr("height",1.5).attr("fill","#9a9a9a");
svg.append("rect").attr("x",R).attr("y",0).attr("width",W-R).attr("height",H).attr("fill","#d6e0ef");
svg.append("rect").attr("x",R).attr("y",0).attr("width",1.5).attr("height",1072).attr("fill","#9a9a9a");
svg.append("rect").attr("x",R).attr("y",846).attr("width",W-R).attr("height",1.5).attr("fill","#9a9a9a");

const txt=(s,px,py,col,w,size,anchor)=>svg.append("text").text(s).attr("x",px).attr("y",py).attr("fill",col)
  .attr("font-family",FONT).attr("font-size",size||13).attr("text-anchor",anchor||"start")
  .attr("textLength",w).attr("lengthAdjust","spacingAndGlyphs");
// Axes
const fmt=d3.format(",");
const aP=svg.append("g").attr("transform",`translate(${R+1},0)`);
aP.call(d3.axisRight(yP).tickValues(d3.range(7000,26001,500).filter(t=>t%2500!=0)).tickSize(3).tickFormat(""));
const aP2=svg.append("g").attr("transform",`translate(${R+1},0)`);
aP2.call(d3.axisRight(yP).tickValues(priceTicks).tickSize(6).tickPadding(1).tickFormat(fmt));
const aV=svg.append("g").attr("transform",`translate(${R+1},0)`);
aV.call(d3.axisRight(yV).tickValues(d3.range(2500,25000,5000)).tickSize(3).tickFormat(""));
const aV2=svg.append("g").attr("transform",`translate(${R+1},0)`);
aV2.call(d3.axisRight(yV).tickValues(volumeTicks).tickSize(6).tickPadding(1).tickFormat(d=>fmt(d)+"K"));
[aP,aP2,aV,aV2].forEach(a=>{a.select(".domain").remove();a.selectAll("line").attr("stroke","#8a8a8a");});
aP2.selectAll("text").attr("font-family",FONT).attr("font-size",13).attr("fill","#555").attr("textLength",35).attr("lengthAdjust","spacingAndGlyphs");
aV2.selectAll("text").attr("font-family",FONT).attr("font-size",13).attr("fill","#555").attr("textLength",d=>d>=10000?43:36).attr("lengthAdjust","spacingAndGlyphs");

// Date axis
txt("2018/04",18,1084,"#444",40);
monthLabels.forEach((m,k)=>txt(m,x(monthIdx[k])+2,1084,"#444",m.length>2?40:12));
txt("09/14",2328,1084,"#444",30);

// Level labels
txt("16,140",18,395,"#c02828",34);
txt("14,947",18,443,"#c02828",34);
txt("13,829",18,488,"#c02828",34);
// Annotations
txt("최고 25,798 (04/16)",792,17,"#d01a1a",105);
svg.append("line").attr("x1",903).attr("x2",917).attr("y1",14).attr("y2",14).attr("stroke","#e00").attr("stroke-width",1.2);
svg.append("path").attr("d","M912,9L918,14L912,19").attr("fill","none").attr("stroke","#e00").attr("stroke-width",1.2);
txt("최저 6,788 (03/23)",1638,777,"#1010c0",100);
svg.append("line").attr("x1",1743).attr("x2",1757).attr("y1",773).attr("y2",773).attr("stroke","#0a14d8").attr("stroke-width",1.2);
svg.append("path").attr("d","M1752,767L1758,773L1752,779Z").attr("fill","#0a14d8");
txt("액면병합(400.94%)",1827,378,"#444",101);
svg.append("line").attr("x1",1878).attr("x2",1878).attr("y1",381).attr("y2",397).attr("stroke","#e01010");
svg.append("path").attr("d",d3.symbol(d3.symbolStar,70)()).attr("transform","translate(1878,397)").attr("fill","#e01010");
txt("배당락(400.94%)",612,487,"#444",92);
svg.append("path").attr("d","M652,504L662,504L657,512Z").attr("fill","#e01010");
txt("배당락(400.94%)",1507,541.5,"#444",89);
svg.append("path").attr("d","M1546,559L1557,559L1551.5,567Z").attr("fill","#e01010");
// Icon
svg.append("rect").attr("x",23).attr("y",5).attr("width",12).attr("height",11).attr("fill","#e8e8e8").attr("stroke","#222");
[8,11,13].forEach(v=>svg.append("line").attr("x1",24).attr("x2",34).attr("y1",v+0.5).attr("y2",v+0.5).attr("stroke","#777"));
[27,31].forEach(v=>svg.append("line").attr("x1",v+0.5).attr("x2",v+0.5).attr("y1",8).attr("y2",16).attr("stroke","#777"));
// Current value tags
txt("HC:-38,75",2321,9,"#2a5fb8",50);
svg.append("rect").attr("x",2324.5).attr("y",406).attr("width",W-2324.5).attr("height",12.5).attr("fill","#e0201c");
txt("15,800",2329,417,"#fff",35);
txt("2.27%",2327,430,"#d03030",31);
svg.append("rect").attr("x",2324.5).attr("y",1046).attr("width",W-2324.5).attr("height",12.5).attr("fill","#1b5fc4");
txt("919,556",2327,1057,"#fff",42);
txt("27.44%",2327,1069,"#2a5fb8",37);
// Volume legend
svg.append("rect").attr("x",20).attr("y",853).attr("width",5).attr("height",5).attr("fill","#999");
txt("거래량",31,861,"#1f9a9a",35);
txt("단순",75,861,"#d22bc0",22);
txt("5",104,861,"#d22bc0",6);
txt("20",118,861,"#e5a81f",12);
txt("60",138,861,"#1f8a3c",12);
txt("120",158,861,"#777",17);
txt("919,556주(27.44%)",21,874,"#333",99);
// Ichimoku legend
const legendW=[88,95,106,122,128];
ichimokuLegend.forEach((d,k)=>txt(d[0],2314,791.7+k*12.1,d[1],legendW[k],13,"end"));
</script></body></html>
